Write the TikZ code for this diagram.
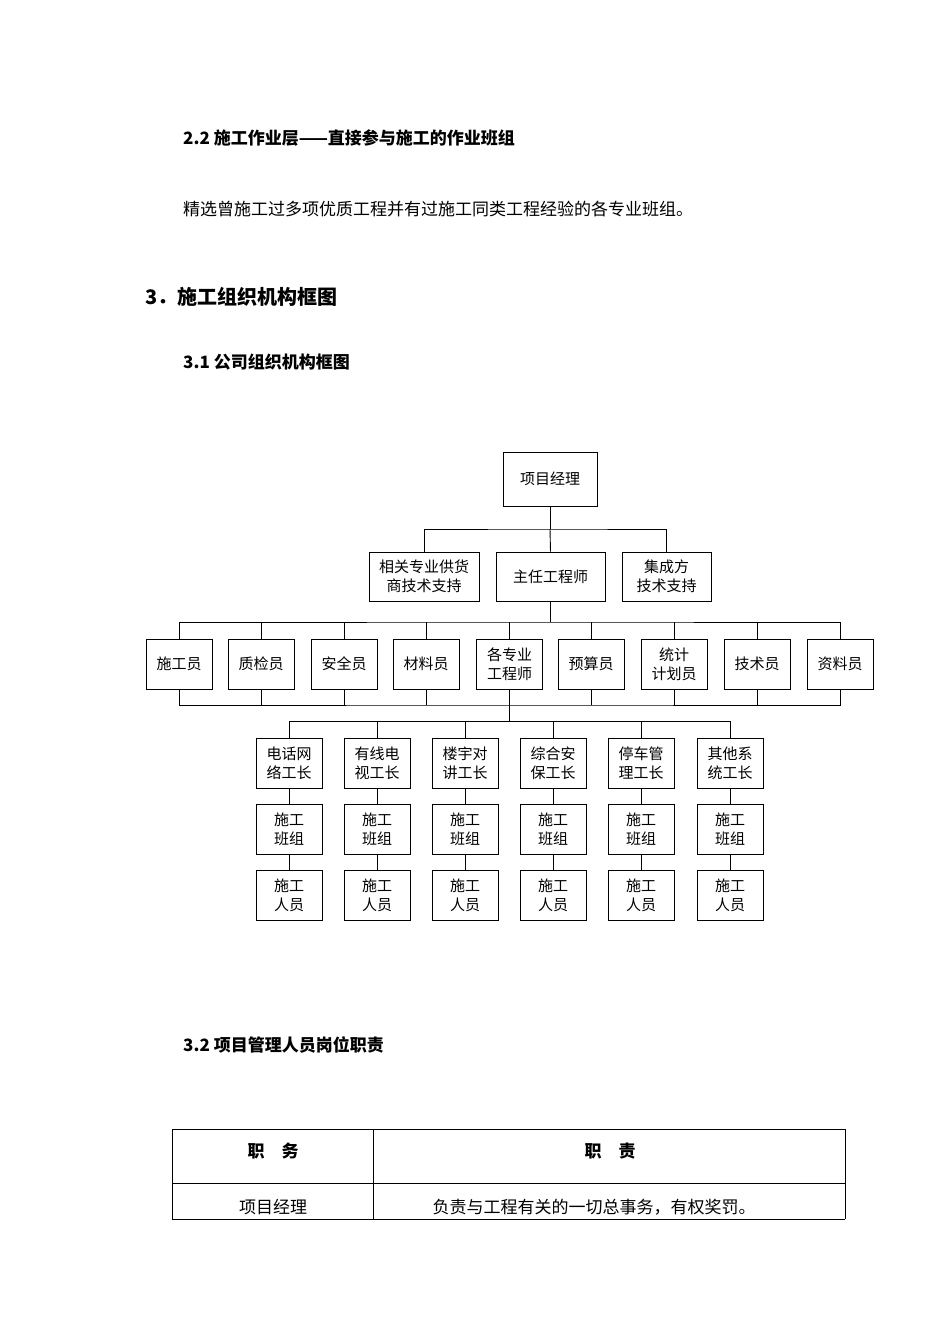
\documentclass[tikz,border=0pt]{standalone}
\usepackage{fontspec}
\setmainfont{Liberation Serif}
\newfontfamily\cjk{Noto Sans CJK SC}
\begin{document}
\begin{tikzpicture}[x=1pt,y=-1pt,
  bx/.style={draw,line width=0.9pt,align=center,font=\cjk\fontsize{15}{19}\selectfont,inner sep=1pt,minimum width=66pt,minimum height=50pt},
  ln/.style={line width=0.9pt},
  hd/.style={anchor=west,inner sep=0pt,font=\cjk\bfseries\fontsize{17}{20}\selectfont}]
\useasboundingbox (0,0) rectangle (950,1344);
\node[hd] (h1) at (183,138) {\textbf{2.2} 施工作业层——直接参与施工的作业班组};
\node[hd,font=\cjk\fontsize{17}{20}\selectfont] (p1) at (183,209) {精选曾施工过多项优质工程并有过施工同类工程经验的各专业班组。};
\node[hd,font=\cjk\bfseries\fontsize{20}{24}\selectfont] (h2) at (145,297) {\textbf{3}．施工组织机构框图};
\node[hd] (h3) at (183,362) {\textbf{3.1} 公司组织机构框图};
\node[hd] (h4) at (183,1045) {\textbf{3.2} 项目管理人员岗位职责};

\node[bx,minimum width=94pt,minimum height=54pt] (pm) at (550,479) {项目经理};
\node[bx,minimum width=110pt,minimum height=49pt] (r1) at (424,576.5) {相关专业供货\\商技术支持};
\node[bx,minimum width=109pt,minimum height=49pt] (r2) at (550.5,576.5) {主任工程师};
\node[bx,minimum width=89pt,minimum height=49pt] (r3) at (666.5,576.5) {集成方\\技术支持};
\draw[ln] (pm.south) -- (550,529) coordinate (j1);
\draw[ln] (r1.north) |- (j1) -| (r3.north);
\draw[ln] (j1) -- (r2.north);

\foreach \n/\x/\t in {a/179/施工员,b/261/质检员,c/344/安全员,d/426/材料员,e/509.5/各专业\\工程师,f/591/预算员,g/674/统计\\计划员,h/757/技术员,i/840/资料员}{
  \node[bx] (m\n) at (\x,664) {\t};
}
\coordinate (j2) at (550.5,622);
\draw[ln] (r2.south) -- (j2);
\draw[ln] (ma.north) |- (j2) -| (mi.north);
\foreach \n in {b,c,d,e,f,g,h}{\draw[ln] (m\n.north) -- (m\n.north|-j2);}
\coordinate (j3) at (509.5,705);
\draw[ln] (ma.south) |- (j3) -| (mi.south);
\foreach \n in {b,c,d,e,f,g,h}{\draw[ln] (m\n.south) -- (m\n.south|-j3);}
\coordinate (j4) at (509.5,721);
\draw[ln] (j3) -- (j4);
\foreach \n/\x/\t in {1/289/电话网\\络工长,2/377/有线电\\视工长,3/465/楼宇对\\讲工长,4/553/综合安\\保工长,5/641/停车管\\理工长,6/730/其他系\\统工长}{
  \node[bx] (w\n) at (\x,763) {\t};
  \node[bx] (s\n) at (\x,829.5) {施工\\班组};
  \node[bx] (p\n) at (\x,895) {施工\\人员};
  \draw[ln] (w\n.north) -- (w\n.north|-j4);
  \draw[ln] (w\n.south) -- (s\n.north);
  \draw[ln] (s\n.south) -- (p\n.north);
}
\draw[ln] (w1.north|-j4) -- (w6.north|-j4);

\draw[line width=0.8pt] (172,1219) -- (172,1129) -- (845,1129) -- (845,1219);
\draw[line width=0.8pt] (172,1183) -- (845,1183);
\draw[line width=0.8pt] (172,1219) -- (845,1219);
\draw[line width=0.8pt] (373,1129) -- (373,1219);
\node[font=\cjk\bfseries\fontsize{17}{20}\selectfont] (t1) at (273,1151) {职\quad 务};
\node[font=\cjk\bfseries\fontsize{17}{20}\selectfont] (t2) at (610,1151) {职\quad 责};
\node[font=\cjk\fontsize{17}{20}\selectfont] (t3) at (273,1207) {项目经理};
\node[font=\cjk\fontsize{17}{20}\selectfont] (t4) at (594,1207) {负责与工程有关的一切总事务，有权奖罚。};
\end{tikzpicture}
\end{document}
